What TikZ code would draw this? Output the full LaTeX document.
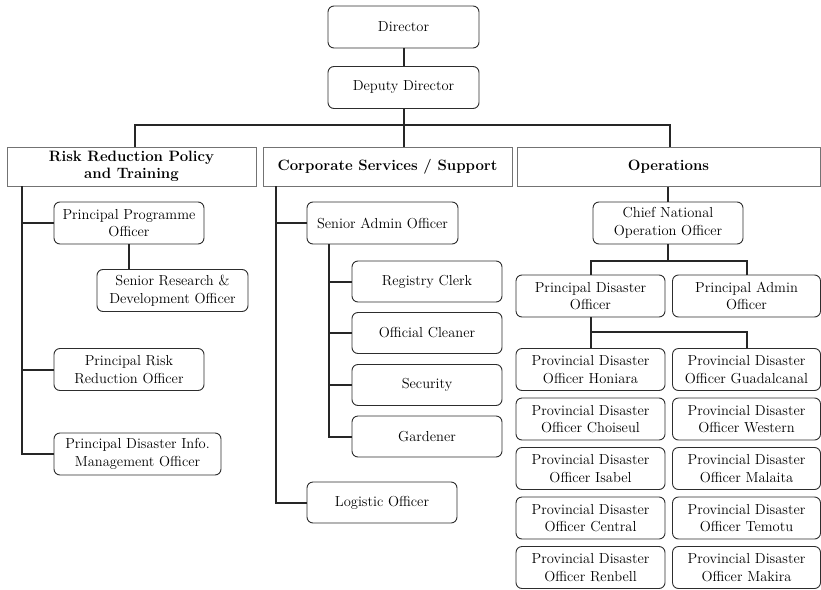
\documentclass[tikz,border=0pt]{standalone}
\usepackage{xcolor}
\usepackage{tikz}
\definecolor{boxline}{RGB}{45, 45, 45}
\definecolor{headline}{RGB}{115, 115, 115}
\usetikzlibrary{positioning, calc}

\begin{document}
\begin{tikzpicture}[
    x=1pt, y=-1pt,
    post/.style={draw=boxline, line width=0.9pt, rounded corners=6pt, fill=white,
                 align=center, minimum width=150pt, minimum height=42pt,
                 inner sep=1pt, font=\fontsize{14.5}{17.5}\selectfont},
    head/.style={draw=headline, line width=1pt, fill=white, align=center,
                 minimum height=39pt, inner sep=1pt,
                 font=\fontsize{15}{17.5}\selectfont\bfseries},
    link/.style={line width=2pt, draw=black!85}
]
    \useasboundingbox (0,0) rectangle (821,589);

    % Top
    \node[post, minimum width=151pt] (director) at (403.5,27) {Director};
    \node[post, minimum width=151pt] (deputy) at (403.5,87.5) {Deputy Director};

    % Divisions
    \node[head, minimum width=249pt] (risk) at (131.5,166.5) {Risk Reduction Policy\\and Training};
    \node[head, minimum width=249pt] (corp) at (387.5,166.5) {Corporate Services / Support};
    \node[head, minimum width=303pt] (ops) at (668.5,166.5) {Operations};

    % Risk reduction posts
    \node[post] (ppo) at (129,223) {Principal Programme\\Officer};
    \node[post, minimum width=151pt] (srd) at (172.5,290.5) {Senior Research \&\\Development Officer};
    \node[post] (prro) at (129,369.5) {Principal Risk\\Reduction Officer};
    \node[post, minimum width=167pt] (pdimo) at (137.5,454) {Principal Disaster Info.\\Management Officer};

    % Corporate posts
    \node[post, minimum width=151pt] (sao) at (382.5,223) {Senior Admin Officer};
    \node[post, minimum height=41pt] (registry) at (427,281.5) {Registry Clerk};
    \node[post, minimum height=41pt] (cleaner) at (427,333) {Official Cleaner};
    \node[post, minimum height=41pt] (security) at (427,385) {Security};
    \node[post, minimum height=41pt] (gardener) at (427,436.5) {Gardener};
    \node[post, minimum height=41pt] (logistic) at (382,502.5) {Logistic Officer};

    % Operations posts
    \node[post] (cnoo) at (668,223) {Chief National\\Operation Officer};
    \node[post, minimum width=149pt] (pdo) at (590.5,296) {Principal Disaster\\Officer};
    \node[post, minimum width=148pt] (pao) at (746.5,296) {Principal Admin\\Officer};

    \node[post, minimum width=149pt] (honiara) at (590.5,369.5) {Provincial Disaster\\Officer Honiara};
    \node[post, minimum width=149pt] (choiseul) at (590.5,419) {Provincial Disaster\\Officer Choiseul};
    \node[post, minimum width=149pt] (isabel) at (590.5,468.5) {Provincial Disaster\\Officer Isabel};
    \node[post, minimum width=149pt] (central) at (590.5,518) {Provincial Disaster\\Officer Central};
    \node[post, minimum width=149pt] (renbell) at (590.5,567.5) {Provincial Disaster\\Officer Renbell};
    \node[post, minimum width=148pt] (guadalcanal) at (746.5,369.5) {Provincial Disaster\\Officer Guadalcanal};
    \node[post, minimum width=148pt] (western) at (746.5,419) {Provincial Disaster\\Officer Western};
    \node[post, minimum width=148pt] (malaita) at (746.5,468.5) {Provincial Disaster\\Officer Malaita};
    \node[post, minimum width=148pt] (temotu) at (746.5,518) {Provincial Disaster\\Officer Temotu};
    \node[post, minimum width=148pt] (makira) at (746.5,567.5) {Provincial Disaster\\Officer Makira};

    % Connectors
    \coordinate (bus) at (404,125);
    \draw[link] (director) -- (deputy);
    \draw[link] (deputy.south) -- (deputy.south |- corp.north);
    \draw[link] ($(risk.north)+(3.5,0)$) |- (bus) -| ($(ops.north)+(1.5,0)$);

    \coordinate (rspine) at (22,186);
    \draw[link] (rspine) |- (pdimo.west);
    \draw[link] (rspine |- ppo.west) -- (ppo.west);
    \draw[link] (rspine |- prro.west) -- (prro.west);
    \draw[link] (ppo.south) -- (ppo.south |- srd.north);

    \coordinate (cspine) at (276,186);
    \draw[link] (cspine) |- (logistic.west);
    \draw[link] (cspine |- sao.west) -- (sao.west);
    \coordinate (sspine) at (329,244);
    \draw[link] (sspine) |- (gardener.west);
    \draw[link] (sspine |- registry.west) -- (registry.west);
    \draw[link] (sspine |- cleaner.west) -- (cleaner.west);
    \draw[link] (sspine |- security.west) -- (security.west);

    \draw[link] (cnoo.north |- ops.south) -- (cnoo.north);
    \coordinate (obus) at (668,261);
    \draw[link] (cnoo.south) -- (obus);
    \draw[link] (pdo.north) |- (obus) -| (pao.north);
    \coordinate (pbus) at (590.5,332);
    \draw[link] (pdo.south) -- (pbus) -| (guadalcanal.north);
    \draw[link] (pbus) -- (honiara.north);
\end{tikzpicture}
\end{document}
